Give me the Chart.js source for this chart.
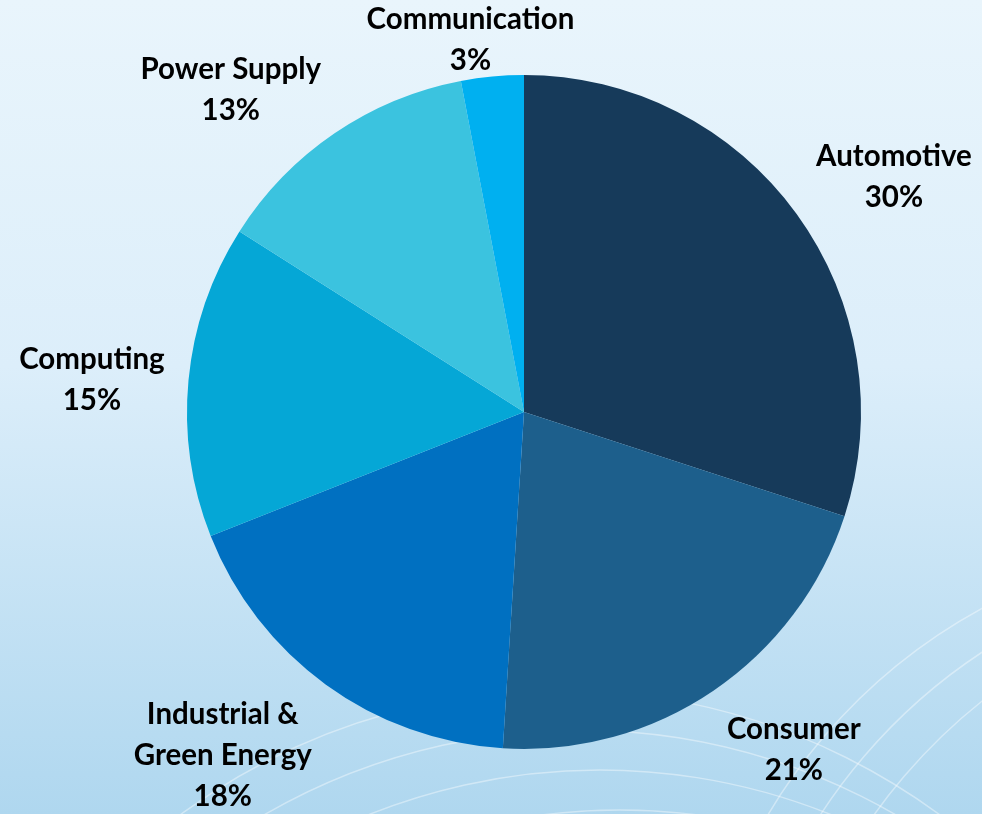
<!DOCTYPE html>
<html>
<head>
<meta charset="utf-8">
<script src="https://cdn.jsdelivr.net/npm/chart.js@4.4.1/dist/chart.umd.min.js"></script>
<style>
  html, body { margin: 0; padding: 0; width: 982px; height: 814px; overflow: hidden; }
  #wrap { position: relative; width: 982px; height: 814px; }
</style>
</head>
<body>
<div id="wrap"><canvas id="c" width="982" height="814"></canvas></div>
<script>
// ---- Data ----
const categories = ["Automotive", "Consumer", "Industrial & Green Energy", "Computing", "Power Supply", "Communication"];
const labelLines = [["Automotive"], ["Consumer"], ["Industrial &", "Green Energy"], ["Computing"], ["Power Supply"], ["Communication"]];
const shares = [30, 21, 18, 15, 13, 3];
const sliceColors = ["#163A5A", "#1D5F8C", "#0070C1", "#05A7D6", "#3BC3DF", "#00B0F0"];

// ---- Background plugin ----
const bgPlugin = {
  id: 'bg',
  beforeDraw(chart) {
    const ctx = chart.ctx, W = chart.width, H = chart.height;
    ctx.save();
    const g = ctx.createLinearGradient(0, 0, 0, H);
    g.addColorStop(0, '#E9F5FC');
    g.addColorStop(0.45, '#DCEEFA');
    g.addColorStop(1, '#AFD7EF');
    ctx.fillStyle = g;
    ctx.fillRect(0, 0, W, H);
    // decorative faint arcs near bottom
    ctx.strokeStyle = 'rgba(255,255,255,0.4)';
    ctx.lineWidth = 1.5;
    const arcs = [
      [560, 1330, 640], [580, 1360, 630], [600, 1390, 620], [620, 1420, 610], [640, 1450, 600]
    ];
    arcs.forEach(a => { ctx.beginPath(); ctx.arc(a[0], a[1], a[2], Math.PI * 1.05, Math.PI * 1.95); ctx.stroke(); });
    const arcs2 = [[1250, 1100, 560], [1290, 1120, 560], [1330, 1140, 560]];
    arcs2.forEach(a => { ctx.beginPath(); ctx.arc(a[0], a[1], a[2], Math.PI * 1.0, Math.PI * 1.45); ctx.stroke(); });
    ctx.restore();
  }
};

// ---- Outside labels plugin ----
const labelPlugin = {
  id: 'outLabels',
  afterDatasetsDraw(chart) {
    const ctx = chart.ctx;
    const meta = chart.getDatasetMeta(0);
    const total = shares.reduce((a, b) => a + b, 0);
    const fs = 29.5, lh = 41, gap = 24, dy = 7, edge = 8;
    ctx.save();
    ctx.font = 'bold ' + fs + 'px Lato, "Open Sans", sans-serif';
    ctx.fillStyle = '#000';
    ctx.textAlign = 'center';
    ctx.textBaseline = 'alphabetic';
    const f = t => Math.max(-1, Math.min(1, t * 2));
    meta.data.forEach((arc, i) => {
      const p = arc.getProps(['x', 'y', 'startAngle', 'endAngle', 'outerRadius'], true);
      const mid = (p.startAngle + p.endAngle) / 2;
      const ux = Math.cos(mid), uy = Math.sin(mid);
      const lines = labelLines[i].concat([Math.round(shares[i] / total * 100) + '%']);
      let w = 0;
      lines.forEach(l => { w = Math.max(w, ctx.measureText(l).width); });
      const capH = fs * 0.72;
      const h = (lines.length - 1) * lh + capH;
      const ex = p.x + ux * (p.outerRadius + gap);
      const ey = p.y + uy * (p.outerRadius + gap);
      const cx = ex + f(ux) * w / 2;
      const cy = ey + f(uy) * h / 2 + dy;
      let top = cy - h / 2;
      // keep label block inside the canvas
      top = Math.max(edge, Math.min(chart.height - edge - h, top));
      lines.forEach((l, k) => ctx.fillText(l, cx, top + capH + k * lh));
    });
    ctx.restore();
  }
};

new Chart(document.getElementById('c'), {
  type: 'pie',
  data: {
    labels: categories,
    datasets: [{
      data: shares,
      backgroundColor: sliceColors,
      borderWidth: 0
    }]
  },
  options: {
    responsive: false,
    animation: false,
    layout: { padding: { top: 75, bottom: 65, left: 187, right: 121 } },
    plugins: { legend: { display: false }, tooltip: { enabled: false } }
  },
  plugins: [bgPlugin, labelPlugin]
});
</script>
</body>
</html>
